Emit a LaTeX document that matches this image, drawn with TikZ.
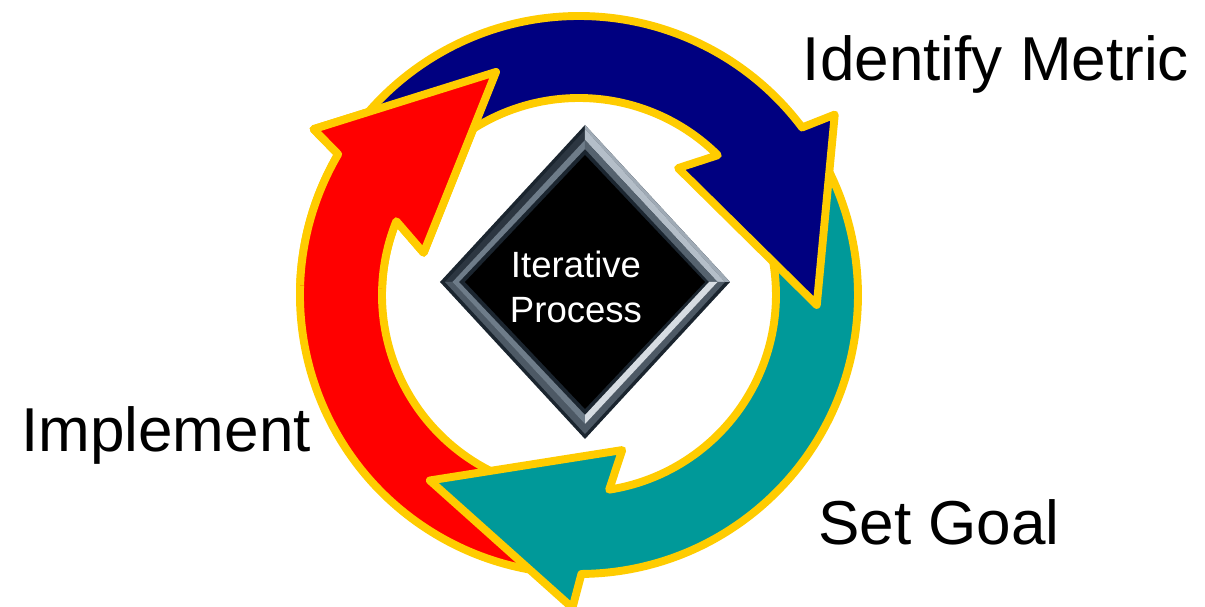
\documentclass[tikz,border=0pt]{standalone}
\usepackage{fontspec}
\setmainfont{Liberation Sans}
\usepackage{tikz}
\definecolor{ringblue}{HTML}{000080}
\definecolor{ringred}{HTML}{FF0000}
\definecolor{ringteal}{HTML}{009999}
\definecolor{ringyellow}{HTML}{FFCC00}
\definecolor{framedark}{HTML}{1B252F}
\definecolor{framemid}{HTML}{6E7C89}
\definecolor{framelight}{HTML}{B4BEC8}
\definecolor{framepale}{HTML}{D6DCE2}

\tikzset{
  arrowband/.style={draw=ringyellow,line width=4.5pt,line join=round},
  steplabel/.style={font=\fontsize{35.3pt}{42pt}\selectfont,anchor=base,inner sep=0pt},
  centretext/.style={font=\fontsize{20.8pt}{25.6pt}\selectfont,text=white,align=center,inner sep=0pt}
}

% one curved arrow of the ring: #1 colour, #2 tip angle, #3 tail angle
\newcommand{\cyclearrow}[3]{%
  \filldraw[arrowband,fill=#1]
    (#2:238) -- ({#2+37.6}:313) -- ({#2+39.3}:279)
    arc[start angle={#2+39.3},end angle=#3,radius=279]
    -- (#3:197)
    arc[start angle=#3,end angle={#2+47.6},radius=197]
    -- ({#2+54.4}:161) -- cycle;}

\begin{document}
\begin{tikzpicture}[x=0.02cm,y=0.02cm]
  \useasboundingbox (-579,-312) rectangle (626,295);
  % ring of three arrows, each tail tucked under the next head
  \cyclearrow{ringred}{110.4}{267.2}
  \cyclearrow{ringteal}{-128.8}{33.6}
  \cyclearrow{ringblue}{-2.4}{146.4}
  \begin{scope}
    \clip (0,0) -- (100:420) arc[start angle=100,end angle=178,radius=420] -- cycle;
    \cyclearrow{ringred}{110.4}{267.2}
  \end{scope}

  % bevelled diamond in the middle
  \fill[framedark] (6,170) -- (151,13) -- (6,-144) -- (-139,13) -- cycle;
  \fill[framedark!80!framemid] (-134,13) -- (6,165) -- (6,155) -- (-126.5,13) -- cycle;
  \fill[framemid] (-126.5,13) -- (6,155) -- (6,146) -- (-120,13) -- cycle;
  \fill[framelight!70!framemid] (6,170) -- (151,13) -- (146,13) -- (6,166) -- cycle;
  \fill[framelight] (6,166) -- (146,13) -- (138.5,13) -- (6,155) -- cycle;
  \fill[framemid!70!framedark] (6,155) -- (138.5,13) -- (130,13) -- (6,146) -- cycle;
  \fill[framemid!60!framedark] (146,13) -- (6,-139) -- (6,-129) -- (138.5,13) -- cycle;
  \fill[framepale] (138.5,13) -- (6,-129) -- (6,-120) -- (130,13) -- cycle;
  \fill[framemid!60!framedark] (6,-139) -- (-134,13) -- (-126.5,13) -- (6,-129) -- cycle;
  \fill[framemid] (6,-129) -- (-126.5,13) -- (-120,13) -- (6,-120) -- cycle;
  \fill[black] (6,140) -- (126,13) -- (6,-114) -- (-114,13) -- cycle;
  \node[centretext] (process) at (-3,8) {Iterative\\Process};

  % step names round the ring
  \node[steplabel] (metric) at (417,214) {Identify Metric};
  \node[steplabel] (goal) at (360,-250) {Set Goal};
  \node[steplabel] (implement) at (-413,-157) {Implement};
\end{tikzpicture}
\end{document}
